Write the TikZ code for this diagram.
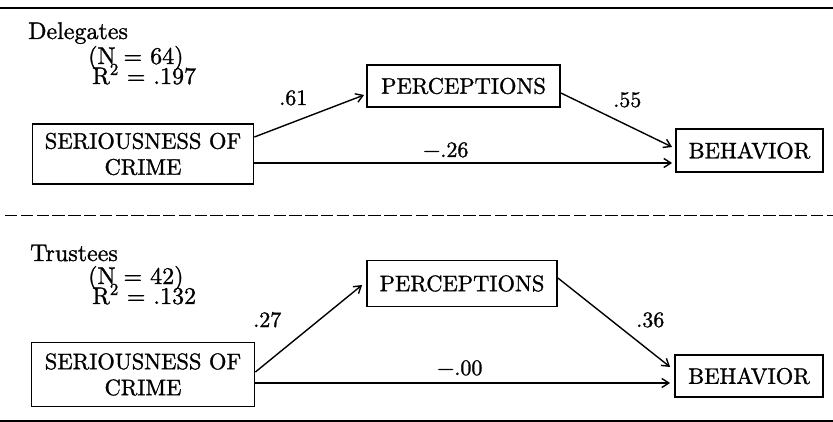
\documentclass[tikz,border=0pt]{standalone}
\usepackage{fontspec}
\setmainfont{lmroman10-regular}[Extension=.otf,FakeBold=1.2]
\usetikzlibrary{arrows.meta}
\begin{document}
\begin{tikzpicture}[x=1pt,y=-1pt,
  box/.style={draw,line width=1.8pt,inner sep=0pt,align=center,
    font=\fontsize{22.5}{26}\selectfont},
  lbl/.style={anchor=base west,inner sep=0pt,font=\fontsize{22}{26}\selectfont},
  head/.style={lbl,font=\fontsize{24}{26}\selectfont},
  link/.style={line width=1.4pt,-{Straight Barb[length=7pt,width=9pt]}},
  rule/.style={line width=2pt}]
\useasboundingbox (0,0) rectangle (833,422);

% horizontal rules
\draw[rule] (0,8) -- (833,8);
\draw[line width=1.5pt,dash pattern=on 12.3pt off 3.5pt] (5,215.5) -- (833,215.5);
\draw[line width=1.6pt] (0,421) -- (833,421);

% ---- Delegates ----
\node[head] (g1) at (28,39) {Delegates};
\node[head] (n1) at (88,64) {(N = 64)};
\node[head] (r1) at (92,84) {R\textsuperscript{2} = .197};

\node[box,minimum width=221pt,minimum height=60pt] (ser1) at (143,154) {SERIOUSNESS OF\\CRIME};
\node[box,minimum width=193pt,minimum height=42pt] (per1) at (463.5,86) {PERCEPTIONS};
\node[box,minimum width=147pt,minimum height=43pt] (beh1) at (749.5,150.5) {BEHAVIOR};

\draw[link] ([yshift=17pt]ser1.east) -- ([yshift=-9pt,xshift=-2pt]per1.west);
\draw[link] ([yshift=-7pt]per1.east) -- ([yshift=3.5pt,xshift=-3pt]beh1.west);
\draw[link] ([yshift=-9pt]ser1.east) -- ([xshift=-3pt,yshift=-9pt]ser1.east -| beh1.west);

\node[lbl] (l61) at (279,105) {.61};
\node[lbl] (l55) at (613,107) {.55};
\node[lbl] (l26) at (423,157) {−.26};

% ---- Trustees ----
\node[head] (g2) at (30,261) {Trustees};
\node[head] (n2) at (88,284) {(N = 42)};
\node[head] (r2) at (92,304) {R\textsuperscript{2} = .132};

\node[box,minimum width=223pt,minimum height=64pt] (ser2) at (143,374.5) {SERIOUSNESS OF\\CRIME};
\node[box,minimum width=190pt,minimum height=46pt] (per2) at (462,283.5) {PERCEPTIONS};
\node[box,minimum width=148pt,minimum height=42pt] (beh2) at (749,376) {BEHAVIOR};

\draw[link] ([yshift=2.5pt]ser2.east) -- ([yshift=-1.5pt,xshift=-4pt]per2.west);
\draw[link] ([yshift=5.5pt]per2.east) -- ([yshift=9pt,xshift=-4pt]beh2.west);
\draw[link] ([yshift=-8.5pt]ser2.east) -- ([xshift=-4pt,yshift=-8.5pt]ser2.east -| beh2.west);

\node[lbl] (l27) at (253,327) {.27};
\node[lbl] (l36) at (636,327) {.36};
\node[lbl] (l00) at (437,375) {−.00};
\end{tikzpicture}
\end{document}
